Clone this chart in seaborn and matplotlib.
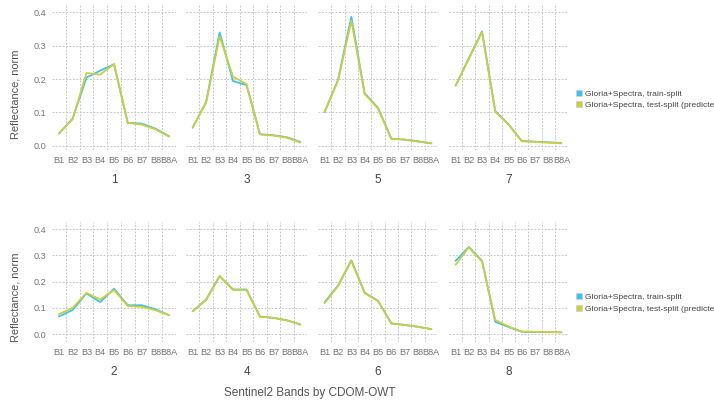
import matplotlib
matplotlib.use("Agg")
import matplotlib.pyplot as plt
from matplotlib.lines import Line2D
import numpy as np
import pandas as pd
import seaborn as sns

bands = ["B1", "B2", "B3", "B4", "B5", "B6", "B7", "B8", "B8A"]
owt_top = ["1", "3", "5", "7"]
owt_bottom = ["2", "4", "6", "8"]
series_names = ["Gloria+Spectra, train-split", "Gloria+Spectra, test-split (predicted)"]

train = {
    "1": [0.037, 0.082, 0.204, 0.225, 0.244, 0.069, 0.067, 0.052, 0.029],
    "3": [0.055, 0.132, 0.339, 0.194, 0.182, 0.035, 0.032, 0.026, 0.012],
    "5": [0.102, 0.197, 0.386, 0.157, 0.114, 0.022, 0.019, 0.014, 0.008],
    "7": [0.180, 0.262, 0.342, 0.104, 0.065, 0.015, 0.013, 0.011, 0.009],
    "2": [0.067, 0.092, 0.155, 0.122, 0.173, 0.110, 0.110, 0.095, 0.072],
    "4": [0.087, 0.132, 0.221, 0.170, 0.170, 0.067, 0.062, 0.053, 0.037],
    "6": [0.122, 0.185, 0.281, 0.158, 0.127, 0.041, 0.035, 0.028, 0.019],
    "8": [0.279, 0.332, 0.279, 0.047, 0.027, 0.009, 0.008, 0.008, 0.007],
}
test = {
    "1": [0.037, 0.080, 0.218, 0.213, 0.245, 0.069, 0.064, 0.050, 0.028],
    "3": [0.055, 0.130, 0.327, 0.207, 0.185, 0.035, 0.031, 0.025, 0.010],
    "5": [0.102, 0.195, 0.374, 0.155, 0.112, 0.021, 0.019, 0.013, 0.008],
    "7": [0.180, 0.260, 0.340, 0.102, 0.064, 0.014, 0.012, 0.010, 0.008],
    "2": [0.076, 0.100, 0.157, 0.132, 0.168, 0.107, 0.104, 0.091, 0.072],
    "4": [0.087, 0.130, 0.221, 0.168, 0.168, 0.066, 0.062, 0.052, 0.036],
    "6": [0.118, 0.183, 0.279, 0.156, 0.126, 0.040, 0.035, 0.028, 0.019],
    "8": [0.264, 0.330, 0.276, 0.054, 0.029, 0.010, 0.009, 0.008, 0.007],
}

colors = {series_names[0]: "#38c3f0", series_names[1]: "#cfcd3e"}

rows = []
for owt in owt_top + owt_bottom:
    for i, b in enumerate(bands):
        rows.append({"owt": owt, "band": b, "x": i, "value": train[owt][i], "series": series_names[0]})
        rows.append({"owt": owt, "band": b, "x": i, "value": test[owt][i], "series": series_names[1]})
df = pd.DataFrame(rows)

sns.set_theme(style="white")
plt.rcParams["font.family"] = ["Liberation Sans", "DejaVu Sans"]

W, H = 714, 403
fig = plt.figure(figsize=(W / 100, H / 100), dpi=100)

lefts = [52, 186, 318, 449]
widths = [124, 121, 120, 119]
row_specs = [
    (owt_top, 5, 150, (-0.012, 0.421), 94),
    (owt_bottom, 222, 342, (-0.03, 0.427), 297),
]

tick_color = "#777777"
grid_kw = dict(color="#c8c8c8", linewidth=0.7, linestyle=(0, (2, 1.5)))

for r, (owts, ytop, ybot, ylim, ylab_y) in enumerate(row_specs):
    for c, owt in enumerate(owts):
        ax = fig.add_axes([lefts[c] / W, 1 - ybot / H, widths[c] / W, (ybot - ytop) / H])
        sub = df[df["owt"] == owt]
        sns.lineplot(data=sub, x="x", y="value", hue="series", hue_order=series_names,
                     palette=colors, linewidth=1.3, ax=ax, legend=False, sort=False)
        ax.set_xlim(-0.5, 8.5)
        ax.set_ylim(*ylim)
        ax.set_xticks(range(len(bands)))
        ax.set_xticklabels(bands)
        ax.set_xticks(np.arange(0.5, 8, 1.0), minor=True)
        ax.set_yticks([0.0, 0.1, 0.2, 0.3, 0.4])
        ax.grid(False)
        ax.grid(True, which="minor", axis="x", **grid_kw)
        ax.grid(True, which="major", axis="y", **grid_kw)
        ax.set_axisbelow(True)
        for s in ax.spines.values():
            s.set_visible(False)
        ax.tick_params(axis="both", which="both", length=0, labelsize=6.6,
                       labelcolor=tick_color, pad=4)
        if c == 0:
            ax.set_yticklabels(["0.0", "0.1", "0.2", "0.3", "0.4"])
        else:
            ax.set_yticklabels([])
        ax.set_ylabel("")
        ax.set_xlabel(owt, fontsize=8.5, color="#444444", labelpad=7)

    fig.text(16 / W, 1 - ylab_y / H, "Reflectance, norm", rotation=90, ha="center",
             va="center", fontsize=7.9, color="#555555")

    handles = [Line2D([0], [0], marker="s", linestyle="none", markersize=4.2,
                      markerfacecolor=colors[n], markeredgecolor="#d0d0d0",
                      markeredgewidth=0.6) for n in series_names]
    ymid = (99.5 if r == 0 else 303) / H
    fig.legend(handles, series_names, loc="center left",
               bbox_to_anchor=(574 / W, 1 - ymid), frameon=False,
               fontsize=6.1, handletextpad=0.15, labelspacing=0.45,
               borderaxespad=0, borderpad=0, handlelength=1.2, labelcolor="#444444")

fig.text(310 / W, 1 - 393 / H, "Sentinel2 Bands by CDOM-OWT", ha="center", va="center",
         fontsize=8.5, color="#555555")

fig.savefig("out.png", dpi=100)
